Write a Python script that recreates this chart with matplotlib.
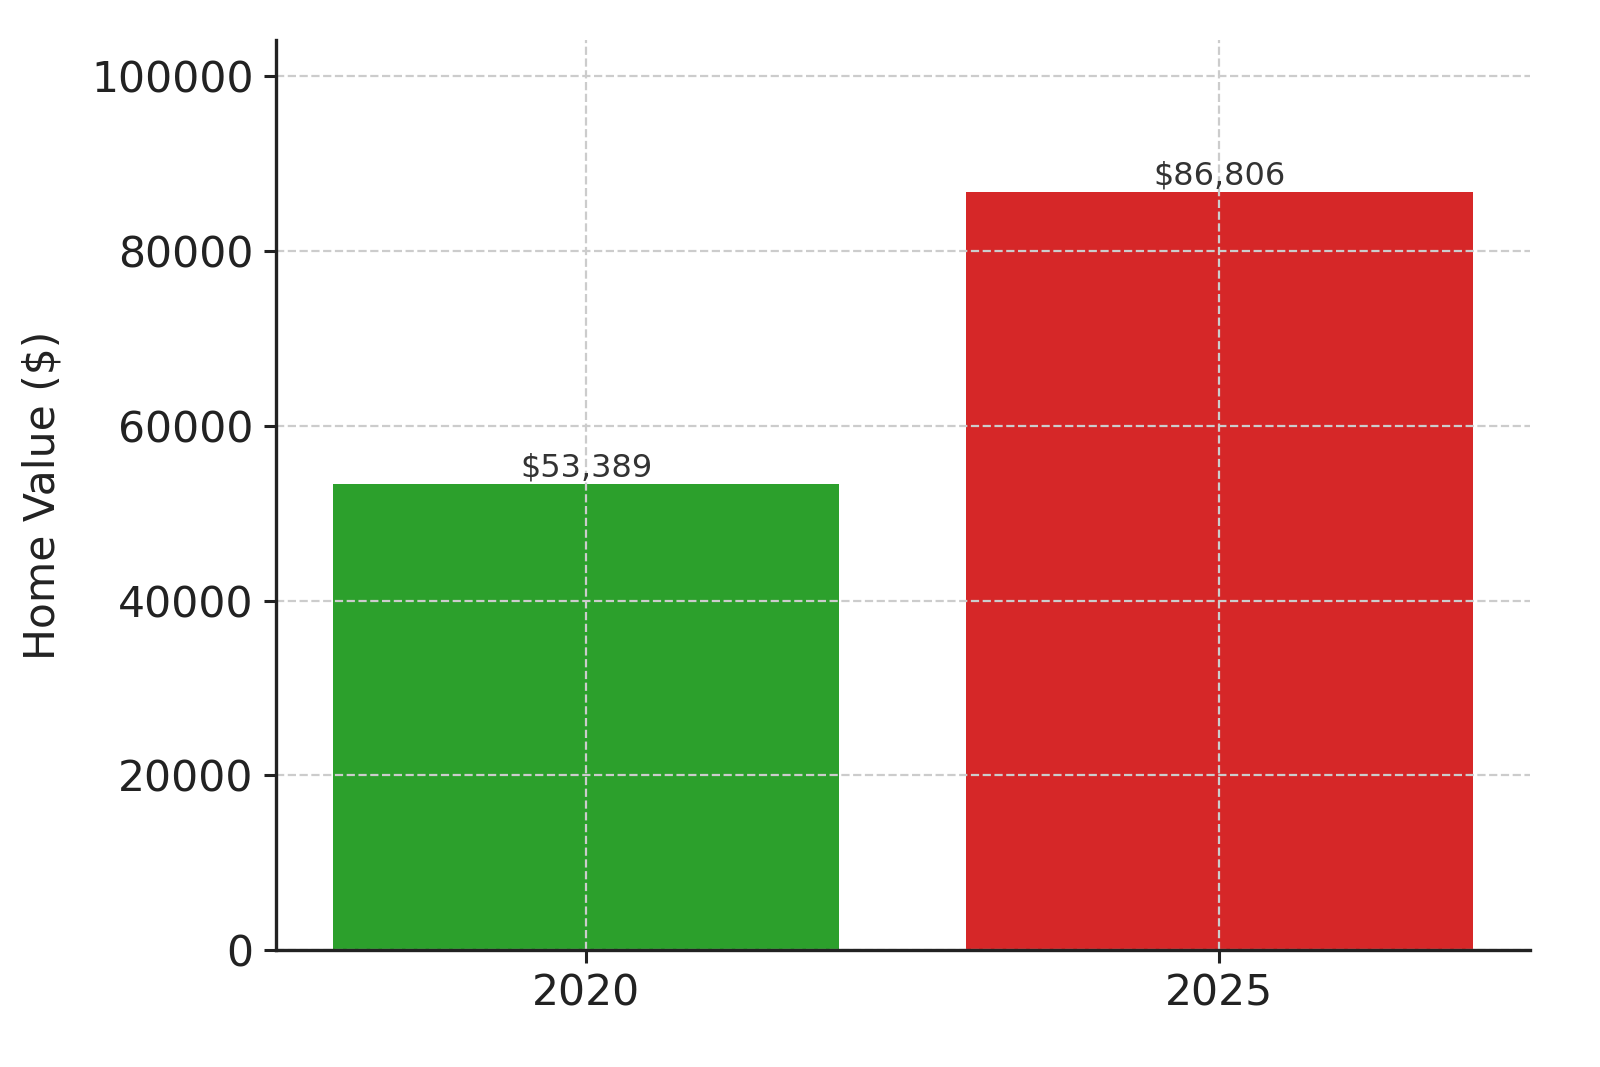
import matplotlib
matplotlib.use("Agg")
from matplotlib import pyplot as plt

# Home values by year
YEARS = ["2020", "2025"]
VALUES = [53389, 86806]
COLORS = ["#2ca02c", "#d62728"]

fig, ax = plt.subplots(figsize=(8, 5.335), dpi=200)
fig.subplots_adjust(left=0.1725, right=0.956, bottom=0.1097, top=0.9625)

bars = ax.bar(YEARS, VALUES, color=COLORS, width=0.8, zorder=2)

for bar, value in zip(bars, VALUES):
    ax.text(bar.get_x() + bar.get_width() / 2, bar.get_height(), f"${value:,}",
            ha="center", va="bottom", fontsize=11.5, color="#333333", zorder=4)

ax.set_ylim(0, max(VALUES) * 1.2)
ax.set_ylabel("Home Value ($)", fontsize=15.3, color="#222222", labelpad=10)
ax.tick_params(axis="both", labelsize=15.3, colors="#222222", length=4.5, width=1.1)
ax.grid(True, linestyle="--", color="#cccccc", linewidth=0.8, zorder=3)
ax.set_axisbelow(False)

for side in ["top", "right"]:
    ax.spines[side].set_visible(False)
for side in ["left", "bottom"]:
    ax.spines[side].set_linewidth(1.2)
    ax.spines[side].set_color("#222222")
    ax.spines[side].set_zorder(5)

fig.savefig("out.png", dpi=200)
